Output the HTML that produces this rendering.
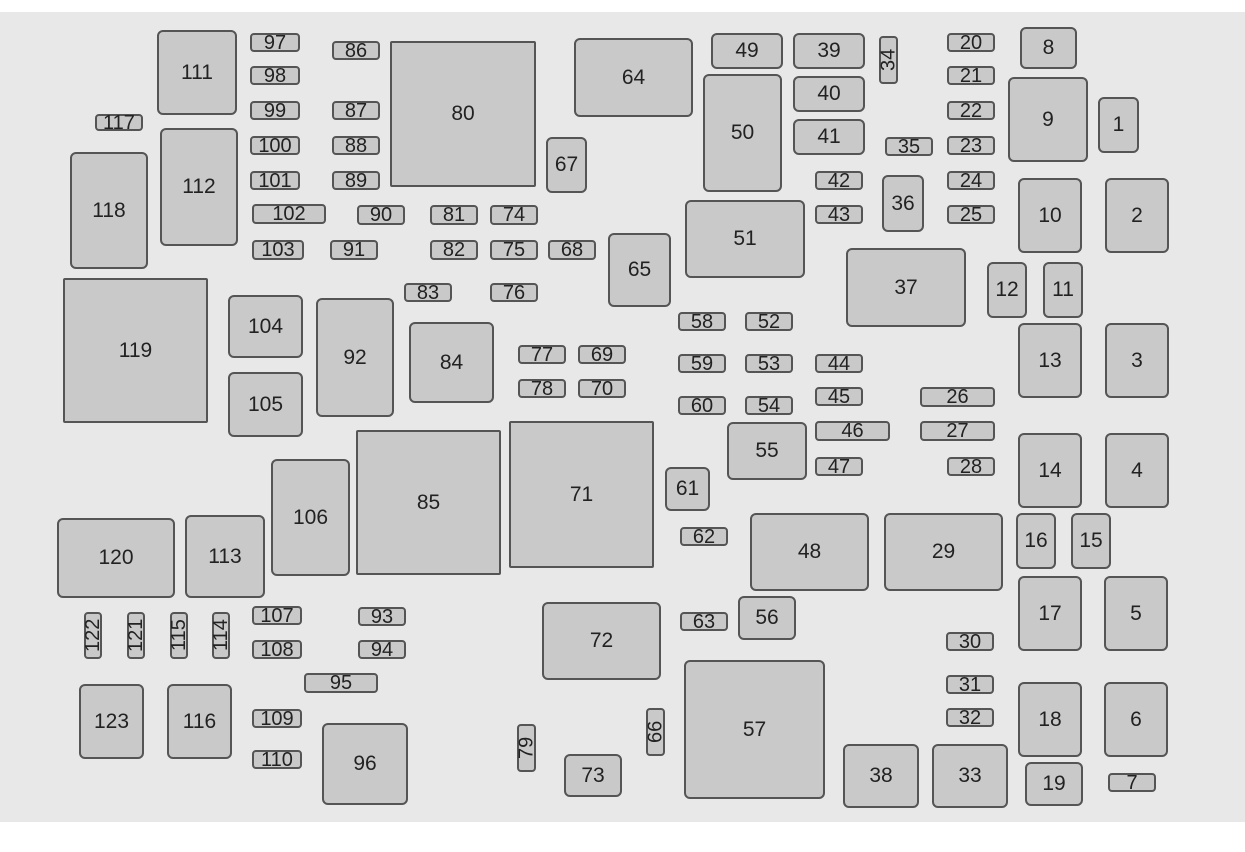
<!DOCTYPE html>
<html><head><meta charset="utf-8"><style>
body{margin:0;width:1245px;height:852px;background:#fff;position:relative;overflow:hidden;font-family:"Liberation Sans",sans-serif}
#bg{position:absolute;left:0;top:12px;width:1245px;height:810px;background:#e8e8e8}
.b{position:absolute;box-sizing:border-box;background:#c9c9c9;border:2px solid #555;border-radius:6px;display:flex;align-items:center;justify-content:center;font-size:21px;color:#222}
.s{border-radius:4px;font-size:20px;line-height:1}
.v{writing-mode:vertical-rl;transform:rotate(180deg)}
</style></head><body><div id="bg"></div>
<div class="b" style="left:157px;top:30px;width:80px;height:85px">111</div>
<div class="b" style="left:160px;top:128px;width:78px;height:118px">112</div>
<div class="b" style="left:70px;top:152px;width:78px;height:117px">118</div>
<div class="b s" style="left:95px;top:114px;width:48px;height:17px">117</div>
<div class="b s" style="left:250px;top:33px;width:50px;height:19px">97</div>
<div class="b s" style="left:250px;top:66px;width:50px;height:19px">98</div>
<div class="b s" style="left:250px;top:101px;width:50px;height:19px">99</div>
<div class="b s" style="left:250px;top:136px;width:50px;height:19px">100</div>
<div class="b s" style="left:250px;top:171px;width:50px;height:19px">101</div>
<div class="b s" style="left:252px;top:204px;width:74px;height:20px">102</div>
<div class="b s" style="left:252px;top:240px;width:52px;height:20px">103</div>
<div class="b s" style="left:332px;top:41px;width:48px;height:19px">86</div>
<div class="b s" style="left:332px;top:101px;width:48px;height:19px">87</div>
<div class="b s" style="left:332px;top:136px;width:48px;height:19px">88</div>
<div class="b s" style="left:332px;top:171px;width:48px;height:19px">89</div>
<div class="b s" style="left:357px;top:205px;width:48px;height:20px">90</div>
<div class="b s" style="left:330px;top:240px;width:48px;height:20px">91</div>
<div class="b" style="left:390px;top:41px;width:146px;height:146px;border-radius:2px">80</div>
<div class="b s" style="left:430px;top:205px;width:48px;height:20px">81</div>
<div class="b s" style="left:490px;top:205px;width:48px;height:20px">74</div>
<div class="b s" style="left:430px;top:240px;width:48px;height:20px">82</div>
<div class="b s" style="left:490px;top:240px;width:48px;height:20px">75</div>
<div class="b s" style="left:548px;top:240px;width:48px;height:20px">68</div>
<div class="b s" style="left:404px;top:283px;width:48px;height:19px">83</div>
<div class="b s" style="left:490px;top:283px;width:48px;height:19px">76</div>
<div class="b" style="left:546px;top:137px;width:41px;height:56px">67</div>
<div class="b" style="left:574px;top:38px;width:119px;height:79px">64</div>
<div class="b" style="left:608px;top:233px;width:63px;height:74px">65</div>
<div class="b" style="left:63px;top:278px;width:145px;height:145px;border-radius:2px">119</div>
<div class="b" style="left:228px;top:295px;width:75px;height:63px">104</div>
<div class="b" style="left:228px;top:372px;width:75px;height:65px">105</div>
<div class="b" style="left:316px;top:298px;width:78px;height:119px">92</div>
<div class="b" style="left:409px;top:322px;width:85px;height:81px">84</div>
<div class="b s" style="left:518px;top:345px;width:48px;height:19px">77</div>
<div class="b s" style="left:578px;top:345px;width:48px;height:19px">69</div>
<div class="b s" style="left:518px;top:379px;width:48px;height:19px">78</div>
<div class="b s" style="left:578px;top:379px;width:48px;height:19px">70</div>
<div class="b" style="left:356px;top:430px;width:145px;height:145px;border-radius:2px">85</div>
<div class="b" style="left:509px;top:421px;width:145px;height:147px;border-radius:2px">71</div>
<div class="b" style="left:271px;top:459px;width:79px;height:117px">106</div>
<div class="b" style="left:57px;top:518px;width:118px;height:80px">120</div>
<div class="b" style="left:185px;top:515px;width:80px;height:83px">113</div>
<div class="b s" style="left:252px;top:606px;width:50px;height:19px">107</div>
<div class="b s" style="left:252px;top:640px;width:50px;height:19px">108</div>
<div class="b s" style="left:252px;top:709px;width:50px;height:19px">109</div>
<div class="b s" style="left:252px;top:750px;width:50px;height:19px">110</div>
<div class="b s" style="left:358px;top:607px;width:48px;height:19px">93</div>
<div class="b s" style="left:358px;top:640px;width:48px;height:19px">94</div>
<div class="b s" style="left:304px;top:673px;width:74px;height:20px">95</div>
<div class="b s v" style="left:84px;top:612px;width:18px;height:47px">122</div>
<div class="b s v" style="left:127px;top:612px;width:18px;height:47px">121</div>
<div class="b s v" style="left:170px;top:612px;width:18px;height:47px">115</div>
<div class="b s v" style="left:212px;top:612px;width:18px;height:47px">114</div>
<div class="b" style="left:79px;top:684px;width:65px;height:75px">123</div>
<div class="b" style="left:167px;top:684px;width:65px;height:75px">116</div>
<div class="b" style="left:322px;top:723px;width:86px;height:82px">96</div>
<div class="b" style="left:542px;top:602px;width:119px;height:78px">72</div>
<div class="b s v" style="left:517px;top:724px;width:19px;height:48px">79</div>
<div class="b" style="left:564px;top:754px;width:58px;height:43px">73</div>
<div class="b s v" style="left:646px;top:708px;width:19px;height:48px">66</div>
<div class="b" style="left:684px;top:660px;width:141px;height:139px">57</div>
<div class="b" style="left:711px;top:33px;width:72px;height:36px">49</div>
<div class="b" style="left:793px;top:33px;width:72px;height:36px">39</div>
<div class="b" style="left:793px;top:76px;width:72px;height:36px">40</div>
<div class="b" style="left:793px;top:119px;width:72px;height:36px">41</div>
<div class="b" style="left:703px;top:74px;width:79px;height:118px">50</div>
<div class="b s v" style="left:879px;top:36px;width:19px;height:48px">34</div>
<div class="b s" style="left:947px;top:33px;width:48px;height:19px">20</div>
<div class="b s" style="left:947px;top:66px;width:48px;height:19px">21</div>
<div class="b s" style="left:947px;top:101px;width:48px;height:19px">22</div>
<div class="b s" style="left:947px;top:136px;width:48px;height:19px">23</div>
<div class="b s" style="left:947px;top:171px;width:48px;height:19px">24</div>
<div class="b s" style="left:947px;top:205px;width:48px;height:19px">25</div>
<div class="b s" style="left:885px;top:137px;width:48px;height:19px">35</div>
<div class="b s" style="left:815px;top:171px;width:48px;height:19px">42</div>
<div class="b s" style="left:815px;top:205px;width:48px;height:19px">43</div>
<div class="b" style="left:882px;top:175px;width:42px;height:57px">36</div>
<div class="b" style="left:1020px;top:27px;width:57px;height:42px">8</div>
<div class="b" style="left:1008px;top:77px;width:80px;height:85px">9</div>
<div class="b" style="left:1098px;top:97px;width:41px;height:56px">1</div>
<div class="b" style="left:1018px;top:178px;width:64px;height:75px">10</div>
<div class="b" style="left:1105px;top:178px;width:64px;height:75px">2</div>
<div class="b" style="left:685px;top:200px;width:120px;height:78px">51</div>
<div class="b" style="left:846px;top:248px;width:120px;height:79px">37</div>
<div class="b" style="left:987px;top:262px;width:40px;height:56px">12</div>
<div class="b" style="left:1043px;top:262px;width:40px;height:56px">11</div>
<div class="b s" style="left:678px;top:312px;width:48px;height:19px">58</div>
<div class="b s" style="left:745px;top:312px;width:48px;height:19px">52</div>
<div class="b s" style="left:678px;top:354px;width:48px;height:19px">59</div>
<div class="b s" style="left:745px;top:354px;width:48px;height:19px">53</div>
<div class="b s" style="left:815px;top:354px;width:48px;height:19px">44</div>
<div class="b s" style="left:678px;top:396px;width:48px;height:19px">60</div>
<div class="b s" style="left:745px;top:396px;width:48px;height:19px">54</div>
<div class="b s" style="left:815px;top:387px;width:48px;height:19px">45</div>
<div class="b s" style="left:815px;top:421px;width:75px;height:20px">46</div>
<div class="b s" style="left:815px;top:457px;width:48px;height:19px">47</div>
<div class="b s" style="left:920px;top:387px;width:75px;height:20px">26</div>
<div class="b s" style="left:920px;top:421px;width:75px;height:20px">27</div>
<div class="b s" style="left:947px;top:457px;width:48px;height:19px">28</div>
<div class="b" style="left:1018px;top:323px;width:64px;height:75px">13</div>
<div class="b" style="left:1105px;top:323px;width:64px;height:75px">3</div>
<div class="b" style="left:727px;top:422px;width:80px;height:58px">55</div>
<div class="b" style="left:665px;top:467px;width:45px;height:44px">61</div>
<div class="b s" style="left:680px;top:527px;width:48px;height:19px">62</div>
<div class="b s" style="left:680px;top:612px;width:48px;height:19px">63</div>
<div class="b" style="left:738px;top:596px;width:58px;height:44px">56</div>
<div class="b" style="left:750px;top:513px;width:119px;height:78px">48</div>
<div class="b" style="left:884px;top:513px;width:119px;height:78px">29</div>
<div class="b" style="left:1018px;top:433px;width:64px;height:75px">14</div>
<div class="b" style="left:1105px;top:433px;width:64px;height:75px">4</div>
<div class="b" style="left:1016px;top:513px;width:40px;height:56px">16</div>
<div class="b" style="left:1071px;top:513px;width:40px;height:56px">15</div>
<div class="b" style="left:1018px;top:576px;width:64px;height:75px">17</div>
<div class="b" style="left:1104px;top:576px;width:64px;height:75px">5</div>
<div class="b s" style="left:946px;top:632px;width:48px;height:19px">30</div>
<div class="b s" style="left:946px;top:675px;width:48px;height:19px">31</div>
<div class="b s" style="left:946px;top:708px;width:48px;height:19px">32</div>
<div class="b" style="left:1018px;top:682px;width:64px;height:75px">18</div>
<div class="b" style="left:1104px;top:682px;width:64px;height:75px">6</div>
<div class="b" style="left:843px;top:744px;width:76px;height:64px">38</div>
<div class="b" style="left:932px;top:744px;width:76px;height:64px">33</div>
<div class="b" style="left:1025px;top:762px;width:58px;height:44px">19</div>
<div class="b s" style="left:1108px;top:773px;width:48px;height:19px">7</div>
</body></html>
